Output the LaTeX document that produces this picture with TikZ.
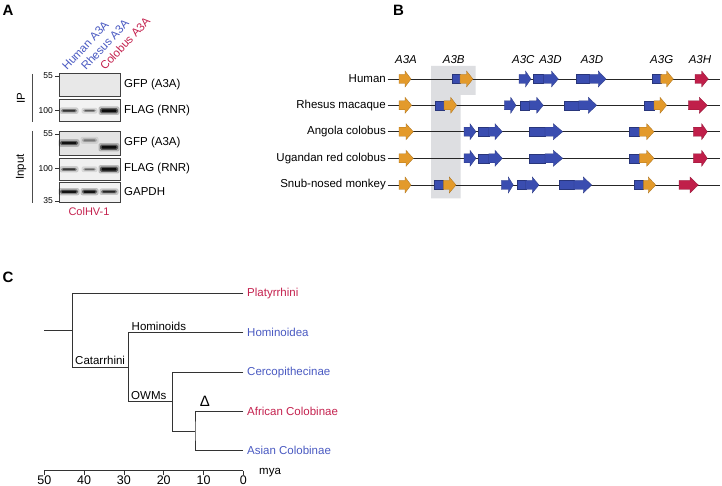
\documentclass[tikz,border=0pt]{standalone}
\usepackage{fontspec}
\setmainfont{Liberation Sans}
\definecolor{gorange}{HTML}{E39A2B}
\definecolor{gblue}{HTML}{3A4DB0}
\definecolor{gred}{HTML}{C01F4A}
\definecolor{tblue}{HTML}{4A5AC2}
\definecolor{tred}{HTML}{C5224F}
\definecolor{hlgray}{HTML}{DDDEE1}
\definecolor{lncol}{HTML}{333333}
% gene arrow: x0 (body start), x1 (head start), xt (tip), y, colour
\newcommand{\garr}[5]{\filldraw[fill=#5,draw=#5!75!black,line width=0.3pt] ({#1},{#4-4.5}) -- ({#2},{#4-4.5}) -- ({#2},{#4-8}) -- ({#3},{#4}) -- ({#2},{#4+8}) -- ({#2},{#4+4.5}) -- ({#1},{#4+4.5}) -- cycle;}
% blue box: x0, x1, y
\newcommand{\gbx}[3]{\filldraw[fill=gblue,draw=gblue!70!black,line width=0.3pt] ({#1},{#3-4.5}) rectangle ({#2},{#3+4.5});}
% blot band: x0, x1, y, half height, strength
\newcommand{\bnd}[5]{%
\pgfmathsetmacro\bndA{0.22*#5}\pgfmathsetmacro\bndB{0.5*#5}\pgfmathsetmacro\bndC{0.85*#5}%
\fill[black,opacity=\bndA,rounded corners=2pt] ({#1-1.5},{#3-#4-1.6}) rectangle ({#2+1.5},{#3+#4+1.6});
\fill[black,opacity=\bndB,rounded corners=1.5pt] ({#1},{#3-#4}) rectangle ({#2},{#3+#4});
\fill[black,opacity=\bndC,rounded corners=1pt] ({#1+1.5},{#3-0.55*#4}) rectangle ({#2-1.5},{#3+0.55*#4});}
\begin{document}
\begin{tikzpicture}[x=1pt,y=-1pt,
  lbl/.style={inner sep=0pt,font=\fontsize{11.5}{13}\selectfont},
  panel/.style={inner sep=0pt,font=\fontsize{15}{17}\selectfont\bfseries},
  mw/.style={inner sep=0pt,font=\fontsize{8.5}{10}\selectfont},
  gene/.style={inner sep=0pt,font=\fontsize{11.5}{13}\selectfont\itshape},
  blotbox/.style={draw=black!75,line width=0.6pt},
  tree/.style={draw=lncol,line width=0.8pt},
  gline/.style={draw=black!85,line width=0.9pt}]
\path[use as bounding box,fill=white] (0,0) rectangle (722,486);

% ---------------- Panel A ----------------
\node[panel] (pA) at (8,10) {A};
\node[lbl,rotate=47,anchor=base west,text=tblue] (cH) at (67,71) {Human A3A};
\node[lbl,rotate=47,anchor=base west,text=tblue] (cR) at (86,71) {Rhesus A3A};
\node[lbl,rotate=47,anchor=base west,text=tred] (cC) at (105,71) {Colobus A3A};

\filldraw[blotbox,fill=black!9]  (59.3,73.5) rectangle (120.7,96.5);
\filldraw[blotbox,fill=black!5]  (59.3,99.3) rectangle (120.7,121.7);
\filldraw[blotbox,fill=black!11] (59.3,131) rectangle (120.7,155.5);
\filldraw[blotbox,fill=black!6]  (59.3,158) rectangle (120.7,180);
\filldraw[blotbox,fill=black!5]  (59.3,182.7) rectangle (120.7,202);

\bnd{61}{77}{110.7}{1.6}{0.7}
\bnd{83}{96}{110.7}{1.3}{0.5}
\bnd{100}{118}{110.7}{2.6}{1}
\bnd{60}{78}{143}{2.2}{0.95}
\bnd{82}{97}{140.3}{1.9}{0.35}
\bnd{100}{118}{147.3}{2.6}{1}
\bnd{61}{77}{169.3}{1.5}{0.7}
\bnd{83}{96}{169.3}{1.3}{0.45}
\bnd{100}{118}{169.3}{2.6}{1}
\bnd{60}{78}{191.7}{2.0}{0.95}
\bnd{82}{97}{191.7}{2.0}{0.95}
\bnd{101}{117}{191.7}{1.7}{0.8}

\node[mw,anchor=east] (m1) at (53,76) {55};
\node[mw,anchor=east] (m2) at (53,110.5) {100};
\node[mw,anchor=east] (m3) at (53,134) {55};
\node[mw,anchor=east] (m4) at (53,168.5) {100};
\node[mw,anchor=east] (m5) at (53,201) {35};
\foreach \t in {m1,m2,m3,m4,m5}{\draw[line width=0.6pt,black!80] ([xshift=2pt]\t.east) -- ([xshift=5.5pt]\t.east);}

\node[lbl,anchor=west] (l1) at (124,85) {GFP (A3A)};
\node[lbl,anchor=west] (l2) at (124,110.5) {FLAG (RNR)};
\node[lbl,anchor=west] (l3) at (124,143) {GFP (A3A)};
\node[lbl,anchor=west] (l4) at (124,169) {FLAG (RNR)};
\node[lbl,anchor=west] (l5) at (124,192) {GAPDH};

\node[lbl,rotate=90] (ip) at (21,98) {IP};
\node[lbl,rotate=90] (inp) at (21,167) {Input};
\coordinate (ip0) at (32,74); \coordinate (ip1) at (32,122);
\coordinate (in0) at (32,131); \coordinate (in1) at (32,203);
\draw[line width=0.7pt,black!70] (ip0) -- (ip1);
\draw[line width=0.7pt,black!70] (in0) -- (in1);
\node[lbl,text=tred,font=\fontsize{11}{13}\selectfont] (colhv) at (89,212) {ColHV-1};

% ---------------- Panel B ----------------
\node[panel] (pB) at (398.5,10) {B};
\fill[hlgray] (431,66) -- (475.7,66) -- (475.7,95) -- (460.7,95) -- (460.7,198.3) -- (431,198.3) -- cycle;

\node[gene,anchor=base] (gA) at (406,63.5) {A3A};
\node[gene,anchor=base] (gB) at (453.7,63.5) {A3B};
\node[gene,anchor=base] (gC) at (523.3,63.5) {A3C};
\node[gene,anchor=base] (gD1) at (550.5,63.5) {A3D};
\node[gene,anchor=base] (gD2) at (592,63.5) {A3D};
\node[gene,anchor=base] (gG) at (661.7,63.5) {A3G};
\node[gene,anchor=base] (gH) at (700,63.5) {A3H};

\foreach \n/\txt/\yy in {r1/Human/79,r2/Rhesus macaque/105.3,r3/Angola colobus/131.7,r4/Ugandan red colobus/158.3,r5/Snub-nosed monkey/185}{
  \node[lbl,anchor=east,inner xsep=1.5pt] (\n) at (387.5,\yy) {\txt};
  \coordinate (\n e) at (720,\yy);
  \draw[gline] (\n.east) -- (\n e);
}

% Human
\garr{399}{405}{411}{79}{gorange}
\gbx{451.7}{460}{79}\garr{460}{466.5}{473}{79}{gorange}
\garr{519}{525.5}{531}{79}{gblue}
\gbx{533.3}{543.3}{79}\garr{543.3}{551.5}{558.3}{79}{gblue}
\gbx{575.7}{589.3}{79}\garr{589.3}{598.3}{606}{79}{gblue}
\gbx{652.3}{660.7}{79}\garr{660.7}{666.7}{673.3}{79}{gorange}
\garr{695}{701.7}{708.3}{79}{gred}
% Rhesus
\garr{399}{405}{411.7}{105.3}{gorange}
\gbx{434.7}{444}{105.3}\garr{444}{450.7}{456.7}{105.3}{gorange}
\garr{504.3}{510.7}{516}{105.3}{gblue}
\gbx{520}{529.3}{105.3}\garr{529.3}{536.7}{543.3}{105.3}{gblue}
\gbx{563.7}{578.7}{105.3}\garr{578.7}{588.3}{596.7}{105.3}{gblue}
\gbx{644.3}{654}{105.3}\garr{654}{660}{666.7}{105.3}{gorange}
\garr{688.3}{699.3}{707.3}{105.3}{gred}
% Angola and Ugandan
\foreach \yy in {131.7,158.3}{
\garr{399}{406}{413.3}{\yy}{gorange}
\garr{464}{470}{476}{\yy}{gblue}
\gbx{478.3}{488.7}{\yy}\garr{488.7}{495}{502.3}{\yy}{gblue}
\gbx{529.3}{545}{\yy}\garr{545}{553.3}{562.7}{\yy}{gblue}
\gbx{629.3}{639.3}{\yy}\garr{639.3}{646.7}{654}{\yy}{gorange}
\garr{693.3}{701.7}{707.3}{\yy}{gred}
}
% Snub-nosed
\garr{399}{405}{411}{185}{gorange}
\gbx{434}{443.3}{185}\garr{443.3}{449.3}{456}{185}{gorange}
\garr{501.3}{508.3}{513.3}{185}{gblue}
\gbx{516.7}{525.7}{185}\garr{525.7}{532.3}{539}{185}{gblue}
\gbx{558.7}{574}{185}\garr{574}{583.3}{591.7}{185}{gblue}
\gbx{634}{643.3}{185}\garr{643.3}{648.3}{655.7}{185}{gorange}
\garr{679}{690}{698.3}{185}{gred}

% ---------------- Panel C ----------------
\node[panel] (pC) at (8,277) {C};
\coordinate (r0) at (44.3,330.3);
\coordinate (r) at (72.3,330.3);
\coordinate (cat) at (128.3,367.2);
\coordinate (owm) at (172.3,401.7);
\coordinate (col) at (195,431.2);
\node[lbl,anchor=west,inner xsep=3.7pt,text=tred] (lP) at (243.3,293.3) {Platyrrhini};
\node[lbl,anchor=west,inner xsep=3.7pt,text=tblue] (lH) at (243.3,332.7) {Hominoidea};
\node[lbl,anchor=west,inner xsep=3.7pt,text=tblue] (lC) at (243.3,372.3) {Cercopithecinae};
\node[lbl,anchor=west,inner xsep=3.7pt,text=tred] (lAf) at (243.3,411.7) {African Colobinae};
\node[lbl,anchor=west,inner xsep=3.7pt,text=tblue] (lAs) at (243.3,450.7) {Asian Colobinae};
\draw[tree] (r0) -- (r);
\draw[tree] (lP.west) -| (r) |- (cat);
\draw[tree] (lH.west) -| (cat) |- (owm);
\draw[tree] (lC.west) -| (owm) |- (col);
\draw[tree] (lAf.west) -| (col) |- (lAs.west);
\node[lbl,anchor=base west] (tCat) at (75,364.3) {Catarrhini};
\node[lbl,anchor=base west] (tHom) at (131.5,330.3) {Hominoids};
\node[lbl,anchor=base west] (tOWM) at (131,399.3) {OWMs};
\node[inner sep=0pt,font=\fontsize{15}{17}\selectfont] (delta) at (205,401) {Δ};

\coordinate (ax0) at (44.3,470.7);
\coordinate (ax1) at (243.3,470.7);
\draw[tree] (ax0) -- (ax1);
\foreach \m in {0,10,20,30,40,50}{
  \coordinate (tk\m) at ({243.3-3.98*\m},470.7);
  \draw[tree] (tk\m) -- ++(0,4.3);
  \node[inner sep=0pt,anchor=base,font=\fontsize{12.5}{14}\selectfont] (tl\m) at ({243.3-3.98*\m},484.3) {\m};
}
\node[lbl,anchor=base west] (mya) at (259,474.3) {mya};
\end{tikzpicture}
\end{document}
